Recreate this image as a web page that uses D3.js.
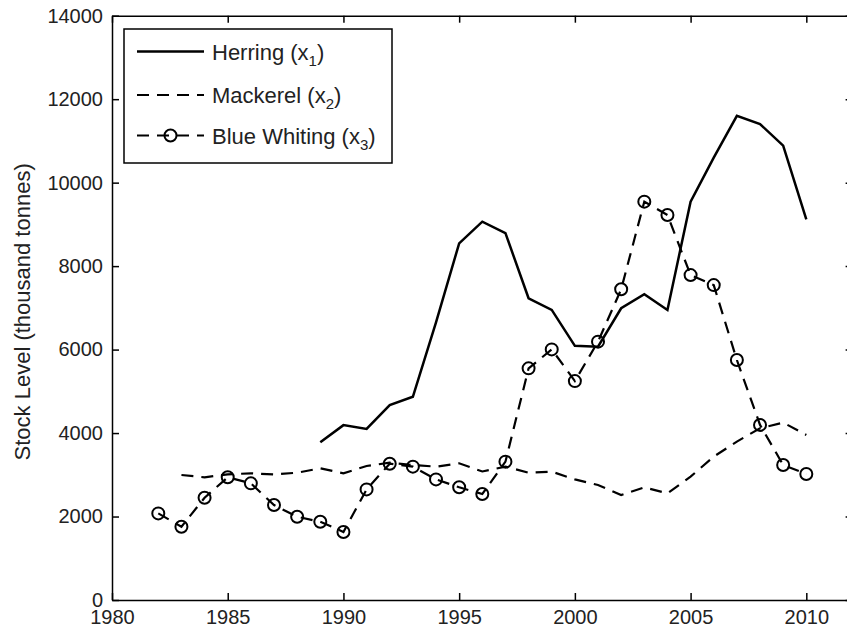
<!DOCTYPE html>
<html lang="en">
<head>
<meta charset="utf-8">
<style>
  body { margin: 0; background: #fff; }
  .axis path, .axis line { fill: none; stroke: #000; stroke-width: 1.5px; }
  .axis text { font-family: "Liberation Sans", Arial, sans-serif; font-size: 20px; fill: #222; }
</style>
<script src="https://cdn.jsdelivr.net/npm/d3@7"></script>
</head>
<body>
<script>
// stock levels, thousand tonnes
const herringYears = d3.range(1989, 2011);
const herring = [3780, 4190, 4100, 4670, 4870, 6650, 8545, 9065, 8790, 7230, 6950, 6090,
                 6070, 6990, 7325, 6950, 9545, 10600, 11600, 11405, 10885, 9120];

const mackerelYears = d3.range(1983, 2011);
const mackerel = [2995, 2940, 3010, 3035, 3010, 3050, 3155, 3035, 3210, 3290, 3235, 3195,
                  3275, 3080, 3195, 3050, 3075, 2890, 2755, 2515, 2700, 2555, 2955, 3435,
                  3795, 4115, 4250, 3955];

const whitingYears = d3.range(1982, 2011);
const whiting = [2075, 1755, 2450, 2940, 2795, 2275, 1995, 1875, 1630, 2650, 3265, 3195,
                 2890, 2700, 2540, 3315, 5550, 6005, 5245, 6190, 7445, 9545, 9225, 7785,
                 7545, 5750, 4195, 3235, 3020];

const xTicks = [1980, 1985, 1990, 1995, 2000, 2005, 2010];
const yTicks = [0, 2000, 4000, 6000, 8000, 10000, 12000, 14000];

const series = [
  { name: "Herring (x", sub: "1", years: herringYears, values: herring, dash: null, marker: false, width: 2.5 },
  { name: "Mackerel (x", sub: "2", years: mackerelYears, values: mackerel, dash: "12,8", marker: false, width: 2.2 },
  { name: "Blue Whiting (x", sub: "3", years: whitingYears, values: whiting, dash: "12,8", marker: true, width: 2.2 }
];

const w = 847, h = 634;
const padL = 112, padR = 852.6, padT = 15.7, padB = 600;

const svg = d3.select("body").append("svg")
  .attr("width", w).attr("height", h)
  .style("display", "block");

svg.append("rect").attr("width", w).attr("height", h).attr("fill", "#fff");

const x = d3.scaleLinear().domain([1980, 2012]).range([padL, padR]);
const y = d3.scaleLinear().domain([0, 14000]).range([padB, padT]);

// box with inward ticks, matlab style
svg.append("g").attr("class", "axis")
  .attr("transform", `translate(0,${padB})`)
  .call(d3.axisBottom(x).tickValues(xTicks).tickFormat(d3.format("d"))
    .tickSizeInner(-7).tickSizeOuter(0).tickPadding(10));

svg.append("g").attr("class", "axis")
  .attr("transform", `translate(0,${padT})`)
  .call(d3.axisTop(x).tickValues(xTicks).tickFormat("")
    .tickSizeInner(-7).tickSizeOuter(0));

svg.append("g").attr("class", "axis")
  .attr("transform", `translate(${padL},0)`)
  .call(d3.axisLeft(y).tickValues(yTicks).tickFormat(d3.format("d"))
    .tickSizeInner(-7).tickSizeOuter(0).tickPadding(9));

svg.append("g").attr("class", "axis")
  .attr("transform", `translate(${padR},0)`)
  .call(d3.axisRight(y).tickValues(yTicks).tickFormat("")
    .tickSizeInner(-7).tickSizeOuter(0));

svg.append("text")
  .attr("transform", `translate(22,${(padT + padB) / 2 + 4}) rotate(-90)`)
  .attr("text-anchor", "middle")
  .attr("dominant-baseline", "central")
  .style("font-family", "Liberation Sans, Arial, sans-serif")
  .style("font-size", "22px")
  .attr("fill", "#222")
  .text("Stock Level (thousand tonnes)");

const line = d3.line().x(d => x(d[0])).y(d => y(d[1]));

series.forEach(s => {
  const pts = s.years.map((yr, i) => [yr, s.values[i]]);
  svg.append("path")
    .datum(pts)
    .attr("d", line)
    .attr("fill", "none")
    .attr("stroke", "#000")
    .attr("stroke-width", s.width)
    .attr("stroke-dasharray", s.dash);
  if (s.marker) {
    svg.append("g").selectAll("circle")
      .data(pts)
      .join("circle")
      .attr("cx", d => x(d[0]))
      .attr("cy", d => y(d[1]))
      .attr("r", 6)
      .attr("fill", "none")
      .attr("stroke", "#000")
      .attr("stroke-width", 2);
  }
});

// legend
const legend = svg.append("g");
legend.append("rect")
  .attr("x", 124).attr("y", 29).attr("width", 268).attr("height", 134)
  .attr("fill", "#fff").attr("stroke", "#000").attr("stroke-width", 1.5);

const rowY = [51.5, 95, 135.5];
series.forEach((s, i) => {
  const ly = rowY[i];
  legend.append("line")
    .attr("x1", 137).attr("x2", 204).attr("y1", ly).attr("y2", ly)
    .attr("stroke", "#000").attr("stroke-width", s.width)
    .attr("stroke-dasharray", s.dash);
  if (s.marker) {
    legend.append("circle")
      .attr("cx", 170.5).attr("cy", ly).attr("r", 6)
      .attr("fill", "none").attr("stroke", "#000").attr("stroke-width", 2);
  }
  const t = legend.append("text")
    .attr("x", 212).attr("y", ly + 8)
    .style("font-family", "Liberation Sans, Arial, sans-serif")
    .style("font-size", "22px")
    .attr("fill", "#222");
  t.append("tspan").text(s.name);
  t.append("tspan").attr("dy", 6).style("font-size", "15px").text(s.sub);
  t.append("tspan").attr("dy", -6).text(")");
});
</script>
</body>
</html>
